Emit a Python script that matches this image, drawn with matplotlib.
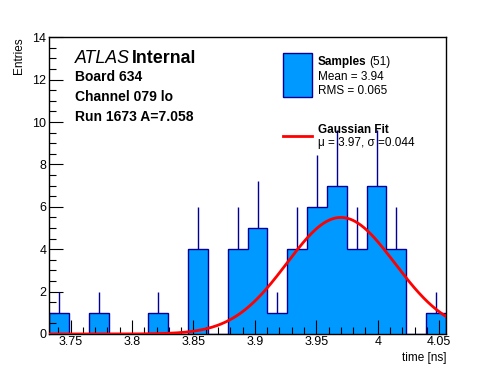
import numpy as np
import matplotlib
matplotlib.use("Agg")
import matplotlib.pyplot as plt
from matplotlib.patches import Rectangle
from matplotlib.lines import Line2D
from matplotlib.ticker import MultipleLocator

plt.rcParams['font.family'] = ['Liberation Sans', 'DejaVu Sans']

# ---- data ----
x_min, x_max = 3.7327, 4.0556
counts = [1, 0, 1, 0, 0, 1, 0, 4, 0, 4, 5, 1, 4, 6, 7, 4, 7, 4, 0, 1]
fit_mu, fit_sigma, fit_amp = 3.97, 0.044, 5.5
x_ticks = [3.75, 3.8, 3.85, 3.9, 3.95, 4.0, 4.05]
x_tick_labels = ["3.75", "3.8", "3.85", "3.9", "3.95", "4", "4.05"]
y_ticks = [0, 2, 4, 6, 8, 10, 12, 14]

W, H = 496, 372
fig = plt.figure(figsize=(W / 100, H / 100), dpi=100)
ax = fig.add_axes([49.3 / W, 1 - 334 / H, (446 - 49.3) / W, (334 - 37.3) / H])

counts = np.array(counts, dtype=float)
edges = np.linspace(x_min, x_max, len(counts) + 1)
centers = 0.5 * (edges[:-1] + edges[1:])

fill_c = '#0099ff'
edge_c = '#000099'
ax.stairs(counts, edges, fill=True, color=fill_c, zorder=1)
ax.stairs(counts, edges, fill=False, color=edge_c, lw=1.0, baseline=0, zorder=2)
nz = counts > 0
ax.vlines(centers[nz], counts[nz], counts[nz] + np.sqrt(counts[nz]), color=edge_c, lw=1.0, zorder=2)

xs = np.linspace(x_min, x_max, 500)
ys = fit_amp * np.exp(-0.5 * ((xs - fit_mu) / fit_sigma) ** 2)
ax.plot(xs, ys, color='#ff0000', lw=2.0, zorder=3)

ax.set_xlim(x_min, x_max)
ax.set_ylim(0, 14)
ax.set_xticks(x_ticks)
ax.set_xticklabels(x_tick_labels)
ax.set_yticks(y_ticks)
ax.xaxis.set_minor_locator(MultipleLocator(0.01))
ax.yaxis.set_minor_locator(MultipleLocator(0.5))
ax.tick_params(which='both', direction='in', top=False, right=False, labelsize=9)
ax.tick_params(axis='x', which='major', length=10, width=0.8, pad=1.5)
ax.tick_params(axis='x', which='minor', length=5, width=0.8)
ax.tick_params(axis='y', which='major', length=10, width=0.8, pad=2)
ax.tick_params(axis='y', which='minor', length=5, width=0.8)
for s in ax.spines.values():
    s.set_linewidth(1.0)

def fx(px):
    return px / W

def fy(py):
    return 1 - py / H

fig.text(fx(446), fy(361), "time [ns]", ha='right', va='baseline', fontsize=8.5)
fig.text(fx(19), fy(37), "Entries", ha='center', va='top', rotation=90, fontsize=8.5)

# ATLAS label block
fig.text(fx(75), fy(63), "ATLAS", fontsize=12.8, style='italic', ha='left', va='baseline')
fig.text(fx(132), fy(63), "Internal", fontsize=12.8, weight='bold', ha='left', va='baseline')
fig.text(fx(75), fy(81), "Board 634", fontsize=10, weight='bold', ha='left', va='baseline')
fig.text(fx(75), fy(101), "Channel 079 lo", fontsize=10, weight='bold', ha='left', va='baseline')
fig.text(fx(75), fy(121), "Run 1673 A=7.058", fontsize=10, weight='bold', ha='left', va='baseline')

# legend
fig.patches.append(Rectangle((fx(283), fy(97)), fx(312) - fx(283), fy(53) - fy(97),
                             transform=fig.transFigure, facecolor=fill_c, edgecolor=edge_c, lw=1.0))
fig.text(fx(318), fy(65), "Samples", fontsize=8.5, weight='bold', ha='left', va='baseline')
fig.text(fx(369), fy(65), "(51)", fontsize=8.5, ha='left', va='baseline')
fig.text(fx(318), fy(80), "Mean = 3.94", fontsize=8.5, ha='left', va='baseline')
fig.text(fx(318), fy(94), "RMS = 0.065", fontsize=8.5, ha='left', va='baseline')
fig.lines.append(Line2D([fx(283), fx(312)], [fy(136), fy(136)], transform=fig.transFigure,
                        color='#ff0000', lw=2.0))
fig.text(fx(318), fy(133), "Gaussian Fit", fontsize=8.5, weight='bold', ha='left', va='baseline')
fig.text(fx(318), fy(146), "\u03bc = 3.97, \u03c3 =0.044", fontsize=8.5, ha='left', va='baseline')

fig.savefig("out.png", dpi=100)
